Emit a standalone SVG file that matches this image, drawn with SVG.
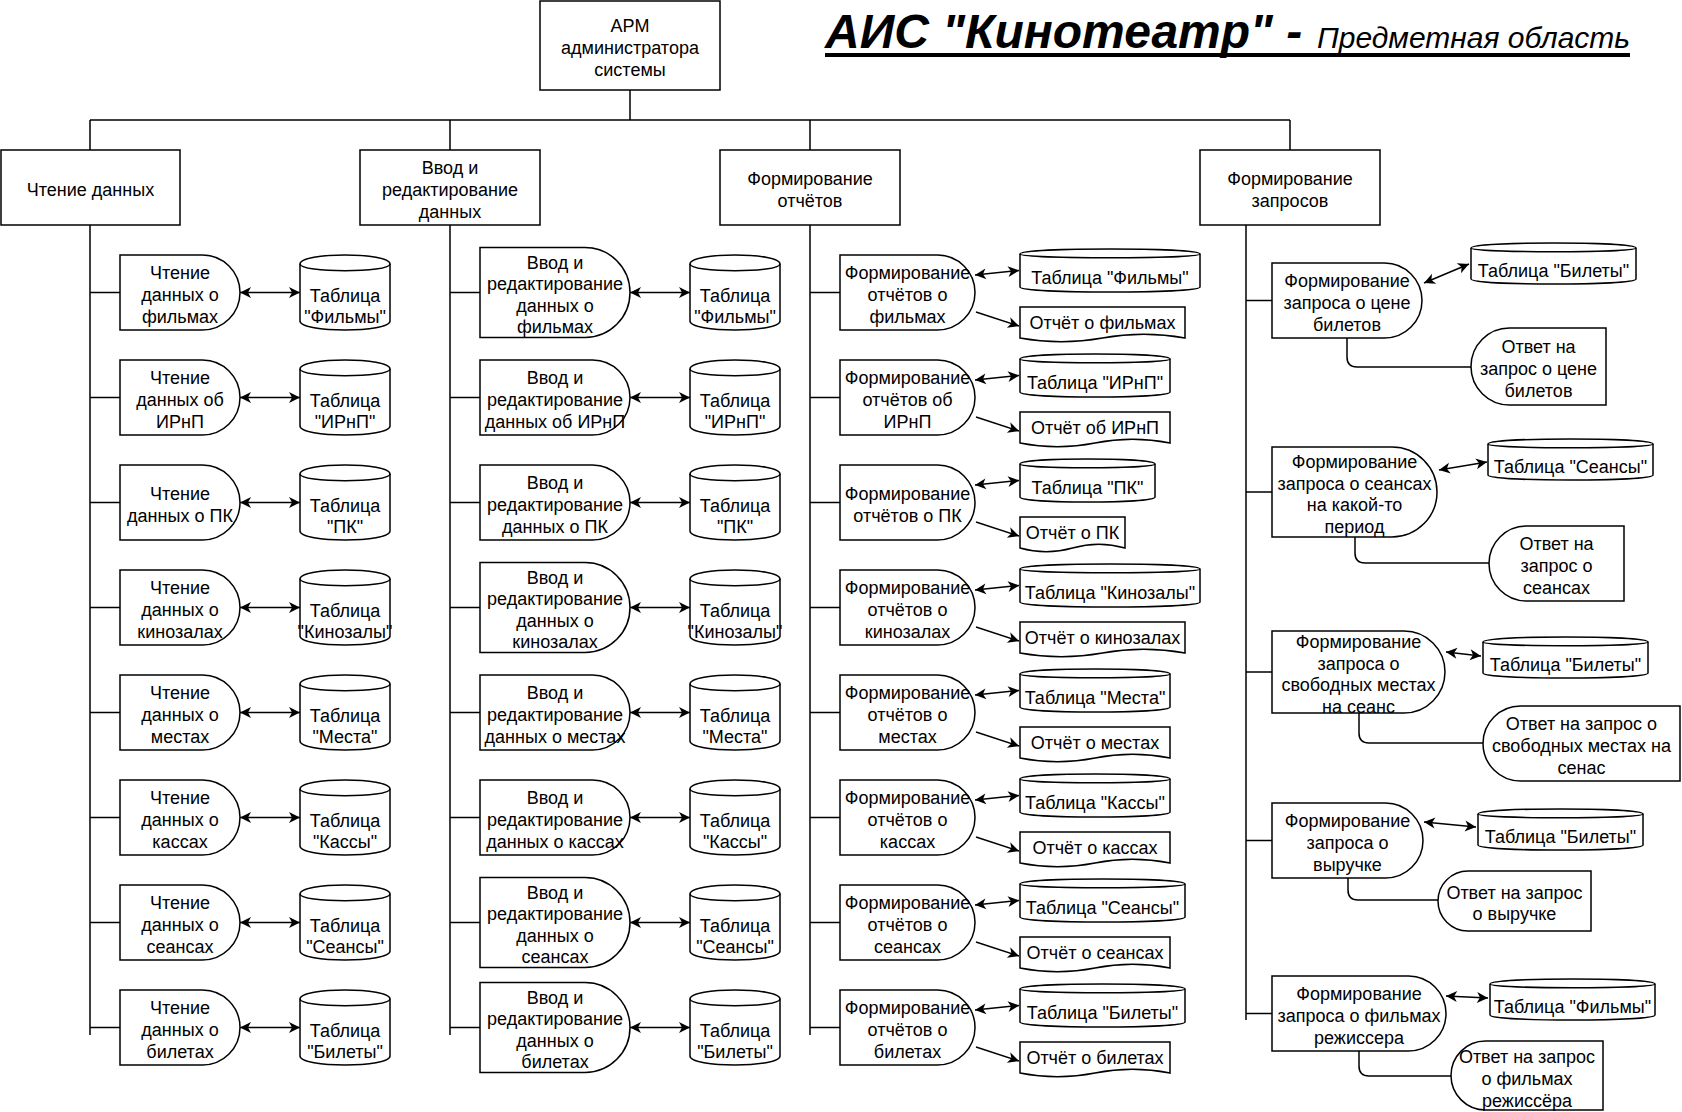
<svg xmlns="http://www.w3.org/2000/svg" width="1682" height="1112" viewBox="0 0 1682 1112">
<defs>
<style>
.s{fill:#fff;stroke:#000;stroke-width:1.5}
.n{fill:none;stroke:#000;stroke-width:1.5}
.d{marker-start:url(#ah);marker-end:url(#ah)}
.a{marker-end:url(#ah)}
text{font-family:"Liberation Sans",Arial,sans-serif;font-size:18px;text-anchor:middle;fill:#000;transform:translate(0px,2.5px)}
.dt{transform:none}
.t1{font-size:48px;font-weight:bold;font-style:italic;text-anchor:start;transform:none}
.t2{font-size:30px;font-style:italic;text-anchor:start;transform:none}
</style>
<marker id="ah" viewBox="-12 -7 13 14" refX="0" refY="0" markerWidth="13" markerHeight="14" markerUnits="userSpaceOnUse" orient="auto-start-reverse">
<path d="M0,0L-11,-5.5L-8,0L-11,5.5Z" fill="#000"/>
</marker>
</defs>
<rect width="1682" height="1112" fill="#fff"/>

<g id="title">
<text x="825" y="48" class="t1">АИС "Кинотеатр" -</text>
<text x="1317" y="48" class="t2">Предметная область</text>
<rect x="825" y="53" width="805" height="4" fill="#000"/>
</g>

<g id="connectors">
<path class="n" d="M630,90V120M90,120H1290M90,120V150M450,120V150M810,120V150M1290,120V150"/>
<path class="n" d="M90,225V1035M450,225V1035M810,225V1035M1246,225V1020"/>
<path class="n" d="M90,292.5H120M90,397.5H120M90,502.5H120M90,607.5H120M90,712.5H120M90,817.5H120M90,922.5H120M90,1027.5H120"/>
<path class="n" d="M450,292.5H480M450,397.5H480M450,502.5H480M450,607.5H480M450,712.5H480M450,817.5H480M450,922.5H480M450,1027.5H480"/>
<path class="n" d="M810,292.5H840M810,397.5H840M810,502.5H840M810,607.5H840M810,712.5H840M810,817.5H840M810,922.5H840M810,1027.5H840"/>
<path class="n" d="M1246,300.5H1272M1246,492H1272M1246,672H1272M1246,840.5H1272M1246,1013.5H1272"/>
<path class="n d" d="M240,292.5H300"/>
<path class="n d" d="M240,397.5H300"/>
<path class="n d" d="M240,502.5H300"/>
<path class="n d" d="M240,607.5H300"/>
<path class="n d" d="M240,712.5H300"/>
<path class="n d" d="M240,817.5H300"/>
<path class="n d" d="M240,922.5H300"/>
<path class="n d" d="M240,1027.5H300"/>
<path class="n d" d="M630,292.5H690"/>
<path class="n d" d="M630,397.5H690"/>
<path class="n d" d="M630,502.5H690"/>
<path class="n d" d="M630,607.5H690"/>
<path class="n d" d="M630,712.5H690"/>
<path class="n d" d="M630,817.5H690"/>
<path class="n d" d="M630,922.5H690"/>
<path class="n d" d="M630,1027.5H690"/>
<path class="n d" d="M975,275L1019,270.5"/>
<path class="n d" d="M975,380L1019,375.5"/>
<path class="n d" d="M975,485L1019,480.5"/>
<path class="n d" d="M975,590L1019,585.5"/>
<path class="n d" d="M975,695L1019,690.5"/>
<path class="n d" d="M975,800L1019,795.5"/>
<path class="n d" d="M975,905L1019,900.5"/>
<path class="n d" d="M975,1010L1019,1005.5"/>
<path class="n a" d="M976,312L1019,326"/>
<path class="n a" d="M976,417L1019,431"/>
<path class="n a" d="M976,522L1019,536"/>
<path class="n a" d="M976,627L1019,641"/>
<path class="n a" d="M976,732L1019,746"/>
<path class="n a" d="M976,837L1019,851"/>
<path class="n a" d="M976,942L1019,956"/>
<path class="n a" d="M976,1047L1019,1061"/>
<path class="n d" d="M1424,283L1469,264"/>
<path class="n d" d="M1439,470L1487,462"/>
<path class="n d" d="M1446,652L1481,656"/>
<path class="n d" d="M1424,822L1476,827"/>
<path class="n d" d="M1446,996L1488,998"/>
<path class="n" d="M1347,338V357Q1347,367 1357,367H1471"/>
<path class="n" d="M1355,537V553Q1355,563 1365,563H1489"/>
<path class="n" d="M1359,713V733Q1359,743 1369,743H1483"/>
<path class="n" d="M1348,878V890Q1348,900 1358,900H1438"/>
<path class="n" d="M1359,1051V1066Q1359,1076 1369,1076H1451"/>
</g>

<g id="arm" transform="translate(540,1)"><rect class="s" width="180" height="89"/><text><tspan x="90" y="28.9">АРМ</tspan><tspan x="90" y="50.5">администратора</tspan><tspan x="90" y="72.1">системы</tspan></text></g>

<g id="read" transform="translate(1,150)"><rect class="s" width="179" height="75"/><text><tspan x="89.5" y="43.5">Чтение данных</tspan></text></g>
<g id="edit" transform="translate(360,150)"><rect class="s" width="180" height="75"/><text><tspan x="90" y="21.9">Ввод и</tspan><tspan x="90" y="43.5">редактирование</tspan><tspan x="90" y="65.1">данных</tspan></text></g>
<g id="reports" transform="translate(720,150)"><rect class="s" width="180" height="75"/><text><tspan x="90" y="32.7">Формирование</tspan><tspan x="90" y="54.3">отчётов</tspan></text></g>
<g id="queries" transform="translate(1200,150)"><rect class="s" width="180" height="75"/><text><tspan x="90" y="32.7">Формирование</tspan><tspan x="90" y="54.3">запросов</tspan></text></g>

<!-- Column 1 -->
<g id="r1p1" transform="translate(120,255)"><path class="s" d="M0,0H82.5A37.5,37.5 0 0 1 82.5,75H0Z"/><text><tspan x="60" y="21.9">Чтение</tspan><tspan x="60" y="43.5">данных о</tspan><tspan x="60" y="65.1">фильмах</tspan></text></g>
<g id="r1p2" transform="translate(120,360)"><path class="s" d="M0,0H82.5A37.5,37.5 0 0 1 82.5,75H0Z"/><text><tspan x="60" y="21.9">Чтение</tspan><tspan x="60" y="43.5">данных об</tspan><tspan x="60" y="65.1">ИРнП</tspan></text></g>
<g id="r1p3" transform="translate(120,465)"><path class="s" d="M0,0H82.5A37.5,37.5 0 0 1 82.5,75H0Z"/><text><tspan x="60" y="32.7">Чтение</tspan><tspan x="60" y="54.3">данных о ПК</tspan></text></g>
<g id="r1p4" transform="translate(120,570)"><path class="s" d="M0,0H82.5A37.5,37.5 0 0 1 82.5,75H0Z"/><text><tspan x="60" y="21.9">Чтение</tspan><tspan x="60" y="43.5">данных о</tspan><tspan x="60" y="65.1">кинозалах</tspan></text></g>
<g id="r1p5" transform="translate(120,675)"><path class="s" d="M0,0H82.5A37.5,37.5 0 0 1 82.5,75H0Z"/><text><tspan x="60" y="21.9">Чтение</tspan><tspan x="60" y="43.5">данных о</tspan><tspan x="60" y="65.1">местах</tspan></text></g>
<g id="r1p6" transform="translate(120,780)"><path class="s" d="M0,0H82.5A37.5,37.5 0 0 1 82.5,75H0Z"/><text><tspan x="60" y="21.9">Чтение</tspan><tspan x="60" y="43.5">данных о</tspan><tspan x="60" y="65.1">кассах</tspan></text></g>
<g id="r1p7" transform="translate(120,885)"><path class="s" d="M0,0H82.5A37.5,37.5 0 0 1 82.5,75H0Z"/><text><tspan x="60" y="21.9">Чтение</tspan><tspan x="60" y="43.5">данных о</tspan><tspan x="60" y="65.1">сеансах</tspan></text></g>
<g id="r1p8" transform="translate(120,990)"><path class="s" d="M0,0H82.5A37.5,37.5 0 0 1 82.5,75H0Z"/><text><tspan x="60" y="21.9">Чтение</tspan><tspan x="60" y="43.5">данных о</tspan><tspan x="60" y="65.1">билетах</tspan></text></g>

<g id="r1c1" transform="translate(300,255)"><path class="s" d="M0,9C0,-3 90,-3 90,9V66C90,78 0,78 0,66Z"/><path class="n" d="M0,9C0,18 90,18 90,9"/><text><tspan x="45" y="44.2">Таблица</tspan><tspan x="45" y="65.8">"Фильмы"</tspan></text></g>
<g id="r1c2" transform="translate(300,360)"><path class="s" d="M0,9C0,-3 90,-3 90,9V66C90,78 0,78 0,66Z"/><path class="n" d="M0,9C0,18 90,18 90,9"/><text><tspan x="45" y="44.2">Таблица</tspan><tspan x="45" y="65.8">"ИРнП"</tspan></text></g>
<g id="r1c3" transform="translate(300,465)"><path class="s" d="M0,9C0,-3 90,-3 90,9V66C90,78 0,78 0,66Z"/><path class="n" d="M0,9C0,18 90,18 90,9"/><text><tspan x="45" y="44.2">Таблица</tspan><tspan x="45" y="65.8">"ПК"</tspan></text></g>
<g id="r1c4" transform="translate(300,570)"><path class="s" d="M0,9C0,-3 90,-3 90,9V66C90,78 0,78 0,66Z"/><path class="n" d="M0,9C0,18 90,18 90,9"/><text><tspan x="45" y="44.2">Таблица</tspan><tspan x="45" y="65.8">"Кинозалы"</tspan></text></g>
<g id="r1c5" transform="translate(300,675)"><path class="s" d="M0,9C0,-3 90,-3 90,9V66C90,78 0,78 0,66Z"/><path class="n" d="M0,9C0,18 90,18 90,9"/><text><tspan x="45" y="44.2">Таблица</tspan><tspan x="45" y="65.8">"Места"</tspan></text></g>
<g id="r1c6" transform="translate(300,780)"><path class="s" d="M0,9C0,-3 90,-3 90,9V66C90,78 0,78 0,66Z"/><path class="n" d="M0,9C0,18 90,18 90,9"/><text><tspan x="45" y="44.2">Таблица</tspan><tspan x="45" y="65.8">"Кассы"</tspan></text></g>
<g id="r1c7" transform="translate(300,885)"><path class="s" d="M0,9C0,-3 90,-3 90,9V66C90,78 0,78 0,66Z"/><path class="n" d="M0,9C0,18 90,18 90,9"/><text><tspan x="45" y="44.2">Таблица</tspan><tspan x="45" y="65.8">"Сеансы"</tspan></text></g>
<g id="r1c8" transform="translate(300,990)"><path class="s" d="M0,9C0,-3 90,-3 90,9V66C90,78 0,78 0,66Z"/><path class="n" d="M0,9C0,18 90,18 90,9"/><text><tspan x="45" y="44.2">Таблица</tspan><tspan x="45" y="65.8">"Билеты"</tspan></text></g>

<!-- Column 2 -->
<g id="r2p1" transform="translate(480,247.5)"><path class="s" d="M0,0H105A45,45 0 0 1 105,90H0Z"/><text><tspan x="75" y="18.6">Ввод и</tspan><tspan x="75" y="40.2">редактирование</tspan><tspan x="75" y="61.8">данных о</tspan><tspan x="75" y="83.4">фильмах</tspan></text></g>
<g id="r2p2" transform="translate(480,360)"><path class="s" d="M0,0H112.5A37.5,37.5 0 0 1 112.5,75H0Z"/><text><tspan x="75" y="21.9">Ввод и</tspan><tspan x="75" y="43.5">редактирование</tspan><tspan x="75" y="65.1">данных об ИРнП</tspan></text></g>
<g id="r2p3" transform="translate(480,465)"><path class="s" d="M0,0H112.5A37.5,37.5 0 0 1 112.5,75H0Z"/><text><tspan x="75" y="21.9">Ввод и</tspan><tspan x="75" y="43.5">редактирование</tspan><tspan x="75" y="65.1">данных о ПК</tspan></text></g>
<g id="r2p4" transform="translate(480,562.5)"><path class="s" d="M0,0H105A45,45 0 0 1 105,90H0Z"/><text><tspan x="75" y="18.6">Ввод и</tspan><tspan x="75" y="40.2">редактирование</tspan><tspan x="75" y="61.8">данных о</tspan><tspan x="75" y="83.4">кинозалах</tspan></text></g>
<g id="r2p5" transform="translate(480,675)"><path class="s" d="M0,0H112.5A37.5,37.5 0 0 1 112.5,75H0Z"/><text><tspan x="75" y="21.9">Ввод и</tspan><tspan x="75" y="43.5">редактирование</tspan><tspan x="75" y="65.1">данных о местах</tspan></text></g>
<g id="r2p6" transform="translate(480,780)"><path class="s" d="M0,0H112.5A37.5,37.5 0 0 1 112.5,75H0Z"/><text><tspan x="75" y="21.9">Ввод и</tspan><tspan x="75" y="43.5">редактирование</tspan><tspan x="75" y="65.1">данных о кассах</tspan></text></g>
<g id="r2p7" transform="translate(480,877.5)"><path class="s" d="M0,0H105A45,45 0 0 1 105,90H0Z"/><text><tspan x="75" y="18.6">Ввод и</tspan><tspan x="75" y="40.2">редактирование</tspan><tspan x="75" y="61.8">данных о</tspan><tspan x="75" y="83.4">сеансах</tspan></text></g>
<g id="r2p8" transform="translate(480,982.5)"><path class="s" d="M0,0H105A45,45 0 0 1 105,90H0Z"/><text><tspan x="75" y="18.6">Ввод и</tspan><tspan x="75" y="40.2">редактирование</tspan><tspan x="75" y="61.8">данных о</tspan><tspan x="75" y="83.4">билетах</tspan></text></g>

<g id="r2c1" transform="translate(690,255)"><path class="s" d="M0,9C0,-3 90,-3 90,9V66C90,78 0,78 0,66Z"/><path class="n" d="M0,9C0,18 90,18 90,9"/><text><tspan x="45" y="44.2">Таблица</tspan><tspan x="45" y="65.8">"Фильмы"</tspan></text></g>
<g id="r2c2" transform="translate(690,360)"><path class="s" d="M0,9C0,-3 90,-3 90,9V66C90,78 0,78 0,66Z"/><path class="n" d="M0,9C0,18 90,18 90,9"/><text><tspan x="45" y="44.2">Таблица</tspan><tspan x="45" y="65.8">"ИРнП"</tspan></text></g>
<g id="r2c3" transform="translate(690,465)"><path class="s" d="M0,9C0,-3 90,-3 90,9V66C90,78 0,78 0,66Z"/><path class="n" d="M0,9C0,18 90,18 90,9"/><text><tspan x="45" y="44.2">Таблица</tspan><tspan x="45" y="65.8">"ПК"</tspan></text></g>
<g id="r2c4" transform="translate(690,570)"><path class="s" d="M0,9C0,-3 90,-3 90,9V66C90,78 0,78 0,66Z"/><path class="n" d="M0,9C0,18 90,18 90,9"/><text><tspan x="45" y="44.2">Таблица</tspan><tspan x="45" y="65.8">"Кинозалы"</tspan></text></g>
<g id="r2c5" transform="translate(690,675)"><path class="s" d="M0,9C0,-3 90,-3 90,9V66C90,78 0,78 0,66Z"/><path class="n" d="M0,9C0,18 90,18 90,9"/><text><tspan x="45" y="44.2">Таблица</tspan><tspan x="45" y="65.8">"Места"</tspan></text></g>
<g id="r2c6" transform="translate(690,780)"><path class="s" d="M0,9C0,-3 90,-3 90,9V66C90,78 0,78 0,66Z"/><path class="n" d="M0,9C0,18 90,18 90,9"/><text><tspan x="45" y="44.2">Таблица</tspan><tspan x="45" y="65.8">"Кассы"</tspan></text></g>
<g id="r2c7" transform="translate(690,885)"><path class="s" d="M0,9C0,-3 90,-3 90,9V66C90,78 0,78 0,66Z"/><path class="n" d="M0,9C0,18 90,18 90,9"/><text><tspan x="45" y="44.2">Таблица</tspan><tspan x="45" y="65.8">"Сеансы"</tspan></text></g>
<g id="r2c8" transform="translate(690,990)"><path class="s" d="M0,9C0,-3 90,-3 90,9V66C90,78 0,78 0,66Z"/><path class="n" d="M0,9C0,18 90,18 90,9"/><text><tspan x="45" y="44.2">Таблица</tspan><tspan x="45" y="65.8">"Билеты"</tspan></text></g>

<!-- Column 3 -->
<g id="r3p1" transform="translate(840,255)"><path class="s" d="M0,0H97.5A37.5,37.5 0 0 1 97.5,75H0Z"/><text><tspan x="67.5" y="21.9">Формирование</tspan><tspan x="67.5" y="43.5">отчётов о</tspan><tspan x="67.5" y="65.1">фильмах</tspan></text></g>
<g id="r3p2" transform="translate(840,360)"><path class="s" d="M0,0H97.5A37.5,37.5 0 0 1 97.5,75H0Z"/><text><tspan x="67.5" y="21.9">Формирование</tspan><tspan x="67.5" y="43.5">отчётов об</tspan><tspan x="67.5" y="65.1">ИРнП</tspan></text></g>
<g id="r3p3" transform="translate(840,465)"><path class="s" d="M0,0H97.5A37.5,37.5 0 0 1 97.5,75H0Z"/><text><tspan x="67.5" y="32.7">Формирование</tspan><tspan x="67.5" y="54.3">отчётов о ПК</tspan></text></g>
<g id="r3p4" transform="translate(840,570)"><path class="s" d="M0,0H97.5A37.5,37.5 0 0 1 97.5,75H0Z"/><text><tspan x="67.5" y="21.9">Формирование</tspan><tspan x="67.5" y="43.5">отчётов о</tspan><tspan x="67.5" y="65.1">кинозалах</tspan></text></g>
<g id="r3p5" transform="translate(840,675)"><path class="s" d="M0,0H97.5A37.5,37.5 0 0 1 97.5,75H0Z"/><text><tspan x="67.5" y="21.9">Формирование</tspan><tspan x="67.5" y="43.5">отчётов о</tspan><tspan x="67.5" y="65.1">местах</tspan></text></g>
<g id="r3p6" transform="translate(840,780)"><path class="s" d="M0,0H97.5A37.5,37.5 0 0 1 97.5,75H0Z"/><text><tspan x="67.5" y="21.9">Формирование</tspan><tspan x="67.5" y="43.5">отчётов о</tspan><tspan x="67.5" y="65.1">кассах</tspan></text></g>
<g id="r3p7" transform="translate(840,885)"><path class="s" d="M0,0H97.5A37.5,37.5 0 0 1 97.5,75H0Z"/><text><tspan x="67.5" y="21.9">Формирование</tspan><tspan x="67.5" y="43.5">отчётов о</tspan><tspan x="67.5" y="65.1">сеансах</tspan></text></g>
<g id="r3p8" transform="translate(840,990)"><path class="s" d="M0,0H97.5A37.5,37.5 0 0 1 97.5,75H0Z"/><text><tspan x="67.5" y="21.9">Формирование</tspan><tspan x="67.5" y="43.5">отчётов о</tspan><tspan x="67.5" y="65.1">билетах</tspan></text></g>

<g id="r3c1" transform="translate(1020,249)"><path class="s" d="M0,5C0,-1.7 180,-1.7 180,5V38C180,44.7 0,44.7 0,38Z"/><path class="n" d="M0,5C0,10 180,10 180,5"/><text x="90" y="32.5">Таблица "Фильмы"</text></g>
<g id="r3c2" transform="translate(1020,354)"><path class="s" d="M0,5C0,-1.7 150,-1.7 150,5V38C150,44.7 0,44.7 0,38Z"/><path class="n" d="M0,5C0,10 150,10 150,5"/><text x="75" y="32.5">Таблица "ИРнП"</text></g>
<g id="r3c3" transform="translate(1020,459)"><path class="s" d="M0,5C0,-1.7 135,-1.7 135,5V38C135,44.7 0,44.7 0,38Z"/><path class="n" d="M0,5C0,10 135,10 135,5"/><text x="67.5" y="32.5">Таблица "ПК"</text></g>
<g id="r3c4" transform="translate(1020,564)"><path class="s" d="M0,5C0,-1.7 180,-1.7 180,5V38C180,44.7 0,44.7 0,38Z"/><path class="n" d="M0,5C0,10 180,10 180,5"/><text x="90" y="32.5">Таблица "Кинозалы"</text></g>
<g id="r3c5" transform="translate(1020,669)"><path class="s" d="M0,5C0,-1.7 150,-1.7 150,5V38C150,44.7 0,44.7 0,38Z"/><path class="n" d="M0,5C0,10 150,10 150,5"/><text x="75" y="32.5">Таблица "Места"</text></g>
<g id="r3c6" transform="translate(1020,774)"><path class="s" d="M0,5C0,-1.7 150,-1.7 150,5V38C150,44.7 0,44.7 0,38Z"/><path class="n" d="M0,5C0,10 150,10 150,5"/><text x="75" y="32.5">Таблица "Кассы"</text></g>
<g id="r3c7" transform="translate(1020,879)"><path class="s" d="M0,5C0,-1.7 165,-1.7 165,5V38C165,44.7 0,44.7 0,38Z"/><path class="n" d="M0,5C0,10 165,10 165,5"/><text x="82.5" y="32.5">Таблица "Сеансы"</text></g>
<g id="r3c8" transform="translate(1020,984)"><path class="s" d="M0,5C0,-1.7 165,-1.7 165,5V38C165,44.7 0,44.7 0,38Z"/><path class="n" d="M0,5C0,10 165,10 165,5"/><text x="82.5" y="32.5">Таблица "Билеты"</text></g>

<g id="r3d1" transform="translate(1020,307)"><path class="s" d="M0,0H165V31Q123.75,23.5 82.5,31Q41.25,38.5 0,31Z"/><text class="dt" x="82.5" y="21.5">Отчёт о фильмах</text></g>
<g id="r3d2" transform="translate(1020,412)"><path class="s" d="M0,0H150V31Q112.5,23.5 75,31Q37.5,38.5 0,31Z"/><text class="dt" x="75" y="21.5">Отчёт об ИРнП</text></g>
<g id="r3d3" transform="translate(1020,517)"><path class="s" d="M0,0H105V31Q78.75,23.5 52.5,31Q26.25,38.5 0,31Z"/><text class="dt" x="52.5" y="21.5">Отчёт о ПК</text></g>
<g id="r3d4" transform="translate(1020,622)"><path class="s" d="M0,0H165V31Q123.75,23.5 82.5,31Q41.25,38.5 0,31Z"/><text class="dt" x="82.5" y="21.5">Отчёт о кинозалах</text></g>
<g id="r3d5" transform="translate(1020,727)"><path class="s" d="M0,0H150V31Q112.5,23.5 75,31Q37.5,38.5 0,31Z"/><text class="dt" x="75" y="21.5">Отчёт о местах</text></g>
<g id="r3d6" transform="translate(1020,832)"><path class="s" d="M0,0H150V31Q112.5,23.5 75,31Q37.5,38.5 0,31Z"/><text class="dt" x="75" y="21.5">Отчёт о кассах</text></g>
<g id="r3d7" transform="translate(1020,937)"><path class="s" d="M0,0H150V31Q112.5,23.5 75,31Q37.5,38.5 0,31Z"/><text class="dt" x="75" y="21.5">Отчёт о сеансах</text></g>
<g id="r3d8" transform="translate(1020,1042)"><path class="s" d="M0,0H150V31Q112.5,23.5 75,31Q37.5,38.5 0,31Z"/><text class="dt" x="75" y="21.5">Отчёт о билетах</text></g>

<!-- Column 4 -->
<g id="q1" transform="translate(1272,263)"><path class="s" d="M0,0H112.5A37.5,37.5 0 0 1 112.5,75H0Z"/><text><tspan x="75" y="21.9">Формирование</tspan><tspan x="75" y="43.5">запроса о цене</tspan><tspan x="75" y="65.1">билетов</tspan></text></g>
<g id="q2" transform="translate(1272,447)"><path class="s" d="M0,0H120A45,45 0 0 1 120,90H0Z"/><text><tspan x="82.5" y="18.6">Формирование</tspan><tspan x="82.5" y="40.2">запроса о сеансах</tspan><tspan x="82.5" y="61.8">на какой-то</tspan><tspan x="82.5" y="83.4">период</tspan></text></g>
<g id="q3" transform="translate(1272,631)"><path class="s" d="M0,0H132A41,41 0 0 1 132,82H0Z"/><text><tspan x="86.5" y="14.6">Формирование</tspan><tspan x="86.5" y="36.2">запроса о</tspan><tspan x="86.5" y="57.8">свободных местах</tspan><tspan x="86.5" y="79.4">на сеанс</tspan></text></g>
<g id="q4" transform="translate(1272,803)"><path class="s" d="M0,0H113.5A37.5,37.5 0 0 1 113.5,75H0Z"/><text><tspan x="75.5" y="21.9">Формирование</tspan><tspan x="75.5" y="43.5">запроса о</tspan><tspan x="75.5" y="65.1">выручке</tspan></text></g>
<g id="q5" transform="translate(1272,976)"><path class="s" d="M0,0H136.5A37.5,37.5 0 0 1 136.5,75H0Z"/><text><tspan x="87" y="21.9">Формирование</tspan><tspan x="87" y="43.5">запроса о фильмах</tspan><tspan x="87" y="65.1">режиссера</tspan></text></g>

<g id="q1c" transform="translate(1471,243)"><path class="s" d="M0,5C0,-1.7 165,-1.7 165,5V36C165,42.7 0,42.7 0,36Z"/><path class="n" d="M0,5C0,10 165,10 165,5"/><text x="82.5" y="31.5">Таблица "Билеты"</text></g>
<g id="q2c" transform="translate(1488,439)"><path class="s" d="M0,5C0,-1.7 165,-1.7 165,5V36C165,42.7 0,42.7 0,36Z"/><path class="n" d="M0,5C0,10 165,10 165,5"/><text x="82.5" y="31.5">Таблица "Сеансы"</text></g>
<g id="q3c" transform="translate(1483,637)"><path class="s" d="M0,5C0,-1.7 165,-1.7 165,5V36C165,42.7 0,42.7 0,36Z"/><path class="n" d="M0,5C0,10 165,10 165,5"/><text x="82.5" y="31.5">Таблица "Билеты"</text></g>
<g id="q4c" transform="translate(1478,809)"><path class="s" d="M0,5C0,-1.7 165,-1.7 165,5V36C165,42.7 0,42.7 0,36Z"/><path class="n" d="M0,5C0,10 165,10 165,5"/><text x="82.5" y="31.5">Таблица "Билеты"</text></g>
<g id="q5c" transform="translate(1490,979)"><path class="s" d="M0,5C0,-1.7 165,-1.7 165,5V36C165,42.7 0,42.7 0,36Z"/><path class="n" d="M0,5C0,10 165,10 165,5"/><text x="82.5" y="31.5">Таблица "Фильмы"</text></g>

<g id="q1a" transform="translate(1471,328)"><path class="s" d="M38.5,0H135V77H38.5A38.5,38.5 0 0 1 38.5,0Z"/><text><tspan x="67.5" y="22.9">Ответ на</tspan><tspan x="67.5" y="44.5">запрос о цене</tspan><tspan x="67.5" y="66.1">билетов</tspan></text></g>
<g id="q2a" transform="translate(1489,526)"><path class="s" d="M37.5,0H135V75H37.5A37.5,37.5 0 0 1 37.5,0Z"/><text><tspan x="67.5" y="21.9">Ответ на</tspan><tspan x="67.5" y="43.5">запрос о</tspan><tspan x="67.5" y="65.1">сеансах</tspan></text></g>
<g id="q3a" transform="translate(1483,706)"><path class="s" d="M37.5,0H197V75H37.5A37.5,37.5 0 0 1 37.5,0Z"/><text><tspan x="98.5" y="21.9">Ответ на запрос о</tspan><tspan x="98.5" y="43.5">свободных местах на</tspan><tspan x="98.5" y="65.1">сенас</tspan></text></g>
<g id="q4a" transform="translate(1438,871)"><path class="s" d="M30,0H153V60H30A30,30 0 0 1 30,0Z"/><text><tspan x="76.5" y="25.2">Ответ на запрос</tspan><tspan x="76.5" y="46.8">о выручке</tspan></text></g>
<g id="q5a" transform="translate(1451,1041)"><path class="s" d="M34.5,0H152V69H34.5A34.5,34.5 0 0 1 34.5,0Z"/><text><tspan x="76" y="19.9">Ответ на запрос</tspan><tspan x="76" y="41.5">о фильмах</tspan><tspan x="76" y="63.1">режиссёра</tspan></text></g>
</svg>
